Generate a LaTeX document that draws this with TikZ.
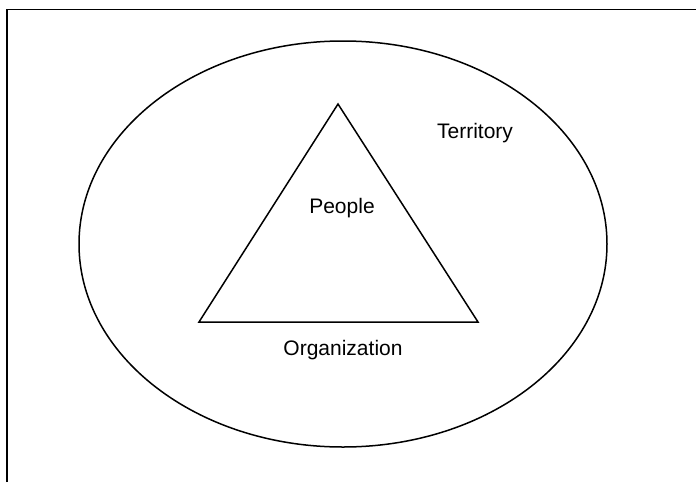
\documentclass[tikz,border=0pt]{standalone}
\usepackage{fontspec}
\setmainfont{Liberation Sans}
\begin{document}
\begin{tikzpicture}[x=1pt,y=-1pt]
\tikzset{every node/.style={inner sep=0pt,font=\fontsize{21}{25}\selectfont}}
\useasboundingbox (0,0) rectangle (696,482);
\draw [black,line width=1.2] (7,482) -- (7,9.5) -- (696,9.5);
\draw [black,line width=1.5] (343,244) ellipse (264 and 203);
\draw [black,line width=1.5] (338,104) -- (478,322) -- (199,322) -- cycle;
\node (people) at (342,208) {People};
\node (territory) at (475,133) {Territory};
\node (organization) at (343,350) {Organization};
\end{tikzpicture}
\end{document}
